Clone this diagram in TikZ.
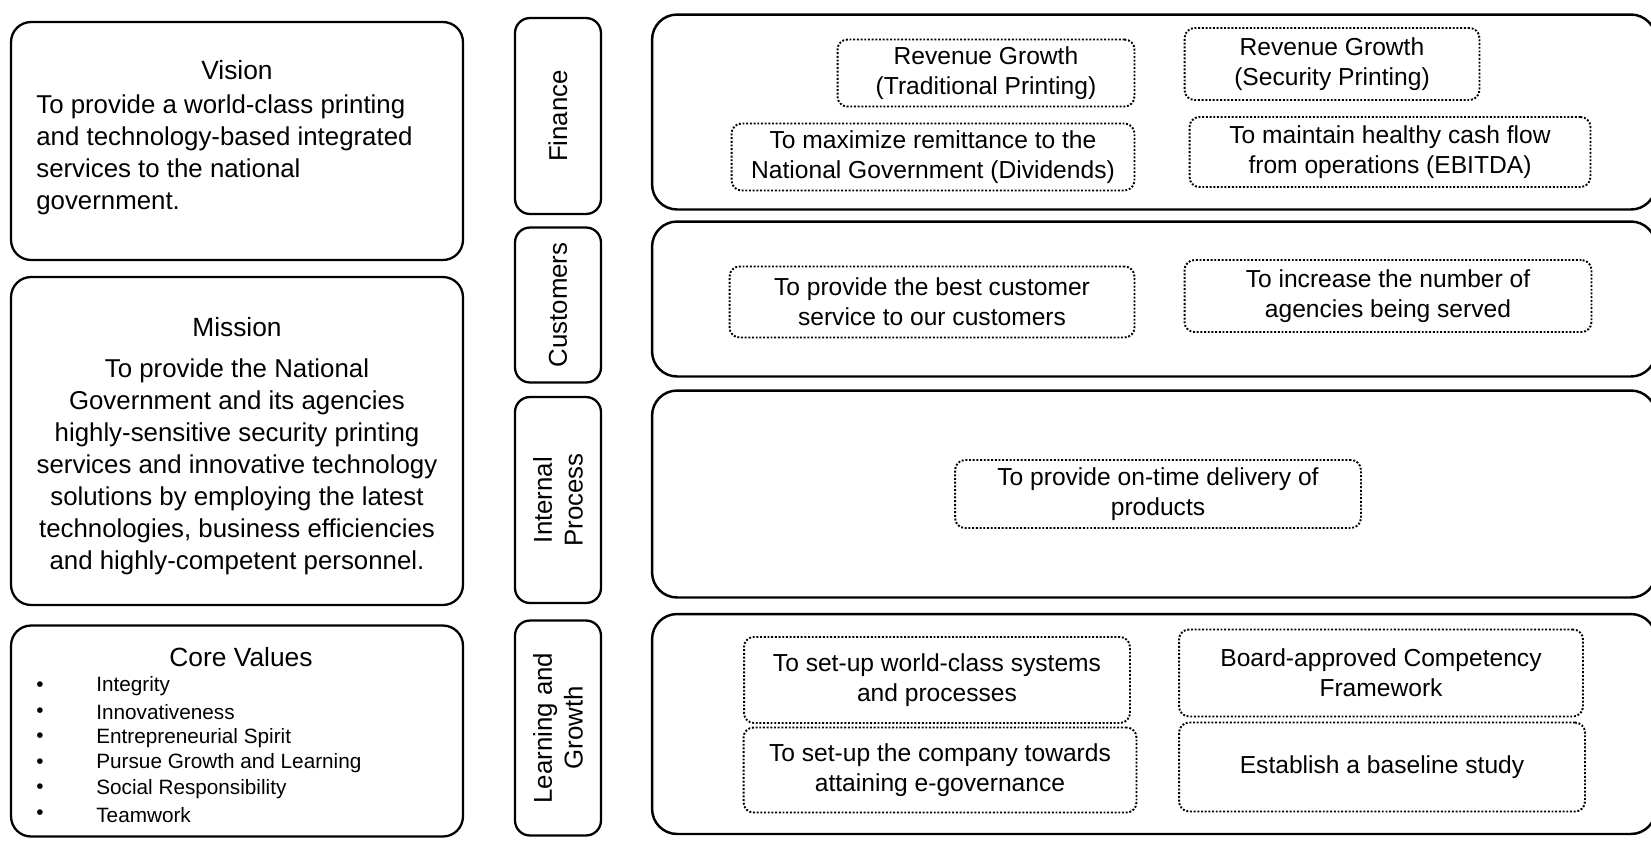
\documentclass[tikz,border=0pt]{standalone}
\usepackage{fontspec}
\setmainfont{Liberation Sans}
\begin{document}
\begin{tikzpicture}[x=0.02cm,y=-0.02cm]
\tikzstyle{solidbox}=[draw,line width=1.3pt,rounded corners=0.4cm,minimum width=9.04cm,inner sep=0pt]
\tikzstyle{sidebox}=[draw,line width=1.3pt,rounded corners=0.3cm,minimum width=1.72cm,inner sep=0pt]
\tikzstyle{panel}=[draw,line width=1.4pt,rounded corners=0.5cm,minimum width=20.08cm,inner sep=0pt]
\tikzstyle{goal}=[draw,densely dotted,line width=1.1pt,rounded corners=0.2cm,align=center,inner sep=0pt,font=\fontsize{14}{17}\selectfont]
\tikzstyle{heading}=[font=\fontsize{15}{18}\selectfont]
\tikzstyle{body}=[font=\fontsize{14.7}{18.2}\selectfont,inner sep=0pt]
\tikzstyle{sidelabel}=[rotate=90,align=center,font=\fontsize{14.7}{17.5}\selectfont]
\tikzstyle{item}=[anchor=west,inner sep=0pt,font=\fontsize{11.8}{14}\selectfont]
\useasboundingbox (0,0) rectangle (1651,840);
% left column
\node [solidbox,minimum height=4.76cm] (vision) at (237,141) {};
\node [solidbox,minimum height=6.56cm] (mission) at (237,441) {};
\node [solidbox,minimum height=4.22cm] (core) at (237,731) {};
\node [heading] (visiontitle) at (237,70) {Vision};
\node [body,align=left,anchor=west] (visiontext) at (36,155) {To provide a world-class printing\\and technology-based integrated\\services to the national\\government.};
\node [heading] (missiontitle) at (237,327) {Mission};
\node [body,align=center] (missiontext) at (237,467) {To provide the National\\Government and its agencies\\highly-sensitive security printing\\services and innovative technology\\solutions by employing the latest\\technologies, business efficiencies\\and highly-competent personnel.};
\node [heading] (coretitle) at (241,657) {Core Values};
\foreach \val [count=\i] in {Integrity,Innovativeness,Entrepreneurial Spirit,Pursue Growth and Learning,Social Responsibility,Teamwork}
{
\node [item] (bul\i) at (36,661+25.6*\i) {•};
\node [item] (val\i) at (96,661+25.6*\i) {\val};
}
% perspectives
\node [sidebox,minimum height=3.92cm] (sfin) at (558,116) {};
\node [sidebox,minimum height=3.1cm] (scust) at (558,305) {};
\node [sidebox,minimum height=4.12cm] (sint) at (558,500) {};
\node [sidebox,minimum height=4.3cm] (slearn) at (558,728) {};
\node [sidelabel] (lfin) at (sfin) {Finance};
\node [sidelabel] (lcust) at (scust) {Customers};
\node [sidelabel] (lint) at (sint) {Internal\\Process};
\node [sidelabel] (llearn) at (slearn) {Learning and\\Growth};
% panels
\node [panel,minimum height=3.9cm] (pfin) at (1154,112) {};
\node [panel,minimum height=3.1cm] (pcust) at (1154,299) {};
\node [panel,minimum height=4.14cm] (pint) at (1154,494) {};
\node [panel,minimum height=4.4cm] (plearn) at (1154,724) {};
% objectives
\node [goal,minimum width=5.94cm,minimum height=1.34cm] (revtrad) at (986,73) {Revenue Growth\\(Traditional Printing)};
\node [goal,minimum width=5.9cm,minimum height=1.44cm] (revsec) at (1332,64) {Revenue Growth\\(Security Printing)};
\node [goal,minimum width=8.06cm,minimum height=1.34cm] (remit) at (933,157) {To maximize remittance to the\\National Government (Dividends)};
\node [goal,minimum width=8.02cm,minimum height=1.4cm] (cash) at (1390,152) {To maintain healthy cash flow\\from operations (EBITDA)};
\node [goal,minimum width=8.1cm,minimum height=1.42cm] (bestcust) at (932,302) {To provide the best customer\\service to our customers};
\node [goal,minimum width=8.14cm,minimum height=1.44cm] (agencies) at (1388,296) {To increase the number of\\agencies being served};
\node [goal,minimum width=8.12cm,minimum height=1.36cm] (ontime) at (1158,494) {To provide on-time delivery of\\products};
\node [goal,minimum width=7.72cm,minimum height=1.72cm] (systems) at (937,680) {To set-up world-class systems\\and processes};
\node [goal,minimum width=8.08cm,minimum height=1.74cm] (board) at (1381,673) {Board-approved Competency\\Framework};
\node [goal,minimum width=7.86cm,minimum height=1.7cm] (egov) at (940,770) {To set-up the company towards\\attaining e-governance};
\node [goal,minimum width=8.12cm,minimum height=1.78cm] (baseline) at (1382,767) {Establish a baseline study};
\end{tikzpicture}
\end{document}
